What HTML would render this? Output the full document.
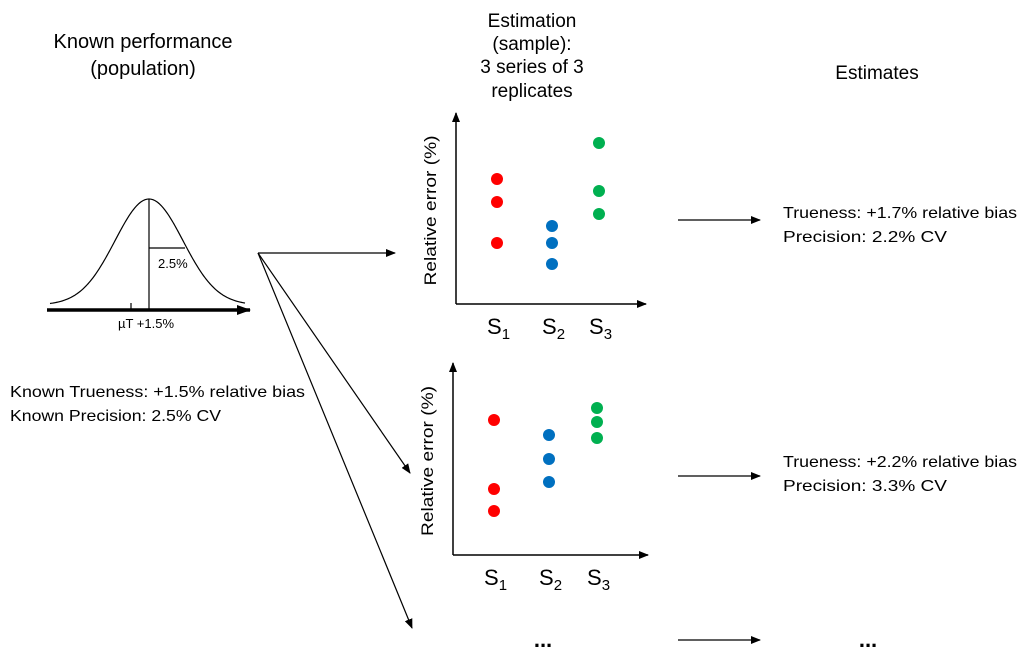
<!DOCTYPE html>
<html><head><meta charset="utf-8"><style>
html,body{margin:0;padding:0;background:#fff;}
svg{display:block;font-family:"Liberation Sans",Arial,sans-serif;}
</style></head><body>
<svg id="fig" width="1028" height="669" viewBox="0 0 1028 669">
<defs>
<marker id="ah" markerWidth="10" markerHeight="8" refX="9" refY="4" orient="auto" markerUnits="userSpaceOnUse"><path d="M0,0 L10,4 L0,8 Z" fill="#000"/></marker>
<marker id="ahb" markerWidth="14" markerHeight="10" refX="13" refY="5" orient="auto" markerUnits="userSpaceOnUse"><path d="M0,0 L14,5 L0,10 Z" fill="#000"/></marker>
</defs>
<g font-size="19" text-anchor="middle" fill="#000">
<text x="143" y="48" font-size="20">Known performance</text>
<text x="143" y="75" font-size="20">(population)</text>
<text x="532" y="27">Estimation</text>
<text x="532" y="50">(sample):</text>
<text x="532" y="73">3 series of 3</text>
<text x="532" y="97">replicates</text>
<text x="877" y="79">Estimates</text>
</g>
<g id="gauss">
<path id="gpath" fill="none" stroke="#000" stroke-width="1.2"/>
<line x1="47" y1="310" x2="250" y2="310" stroke="#000" stroke-width="3.5" marker-end="url(#ahb)"/>
<line x1="131" y1="303" x2="131" y2="310" stroke="#000" stroke-width="1.2"/>
<line x1="149" y1="199" x2="149" y2="310" stroke="#000" stroke-width="1.2"/>
<line x1="149" y1="248" x2="185" y2="248" stroke="#000" stroke-width="1.2"/>
<text x="158" y="268" font-size="13">2.5%</text>
<text x="118" y="328" font-size="13">µT +1.5%</text>
</g>
<g font-size="16" fill="#000">
<text x="10" y="397" textLength="295" lengthAdjust="spacingAndGlyphs">Known Trueness: +1.5% relative bias</text>
<text x="10" y="421" textLength="211" lengthAdjust="spacingAndGlyphs">Known Precision: 2.5% CV</text>
<text x="783" y="218" textLength="234" lengthAdjust="spacingAndGlyphs">Trueness: +1.7% relative bias</text>
<text x="783" y="242" textLength="164" lengthAdjust="spacingAndGlyphs">Precision: 2.2% CV</text>
<text x="783" y="467" textLength="234" lengthAdjust="spacingAndGlyphs">Trueness: +2.2% relative bias</text>
<text x="783" y="491" textLength="164" lengthAdjust="spacingAndGlyphs">Precision: 3.3% CV</text>
<text x="543" y="647" text-anchor="middle" font-size="22" font-weight="bold">...</text>
<text x="868" y="647" text-anchor="middle" font-size="22" font-weight="bold">...</text>
</g>
<g stroke="#000" stroke-width="1.2" fill="none">
<line x1="258" y1="253" x2="395" y2="253" marker-end="url(#ah)"/>
<line x1="258" y1="253" x2="410" y2="473" marker-end="url(#ah)"/>
<line x1="258" y1="253" x2="412" y2="628" marker-end="url(#ah)"/>
<line x1="678" y1="220" x2="760" y2="220" marker-end="url(#ah)"/>
<line x1="678" y1="476" x2="760" y2="476" marker-end="url(#ah)"/>
<line x1="678" y1="640" x2="760" y2="640" marker-end="url(#ah)"/>
</g>
<g id="charts"></g>
</svg>
<script>
// Chart values (relative error, arbitrary units above x-axis)
const categories = ["1","2","3"];
const chart1Red = [125, 102, 61];
const chart1Blue = [78, 61, 40];
const chart1Green = [161, 113, 90];
const chart2Red = [135, 66, 44];
const chart2Blue = [120, 96, 73];
const chart2Green = [147, 133, 117];
const colors = ["#ff0000","#0070c0","#00b050"];

const NS="http://www.w3.org/2000/svg";
function mk(tag,attrs,parent){const e=document.createElementNS(NS,tag);for(const k in attrs)e.setAttribute(k,attrs[k]);parent.appendChild(e);return e;}

(function(){
  let d="";
  for(let x=50;x<=245;x+=1){
    const z=(x-149)/34;
    const y=305-106*Math.exp(-z*z/2);
    d+=(x===50?"M":"L")+x+","+y.toFixed(2)+" ";
  }
  document.getElementById("gpath").setAttribute("d",d);
})();

function drawChart(idx,ox,oy,top,xend,xs,series){
  const root=document.getElementById("charts");
  const g=mk("g",{},root);
  
  
  const yAxis=mk("line",{x1:ox,y1:oy,x2:ox,y2:top,stroke:"#000","stroke-width":1.5,"marker-end":"url(#ah)"},g);
  
  
  const xAxis=mk("line",{x1:ox,y1:oy,x2:xend,y2:oy,stroke:"#000","stroke-width":1.5,"marker-end":"url(#ah)"},g);
  
  
  const yt=mk("text",{x:0,y:0,"font-size":17,"text-anchor":"middle",textLength:150,lengthAdjust:"spacingAndGlyphs",transform:`translate(${ox-20},${(oy+top)/2+2}) rotate(-90)`},g);
  yt.textContent="Relative error (%)";
  
  
  const yScale=v=>oy-v;
  categories.forEach((c,i)=>{
    const t=mk("text",{x:xs[i]-10,y:oy+30,"font-size":22},g);
    t.textContent="S";
    const sub=mk("tspan",{"font-size":15,dy:5},t);
    sub.textContent=c;
    
    
    series[i].forEach((v,j)=>{
      const p=mk("circle",{cx:xs[i],cy:yScale(v),r:6,fill:colors[i]},g);
      
      
    });
  });
}
drawChart(1,456,304,113,646,[497,552,599],[chart1Red,chart1Blue,chart1Green]);
drawChart(2,453,555,363,648,[494,549,597],[chart2Red,chart2Blue,chart2Green]);
</script>
</body></html>
